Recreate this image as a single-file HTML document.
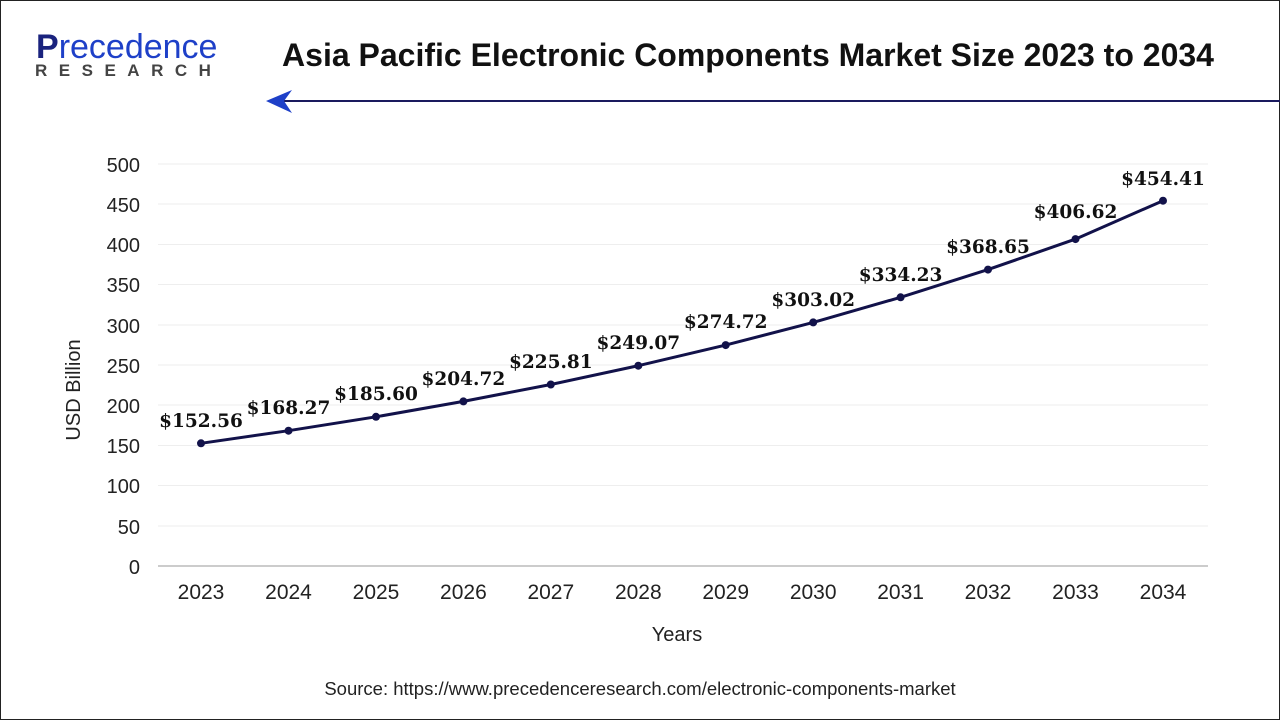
<!DOCTYPE html><html><head><style>
body{margin:0;width:1280px;height:720px;background:#fff;overflow:hidden;font-family:"Liberation Sans",sans-serif}
</style></head><body>
<svg width="1280" height="720" viewBox="0 0 1280 720">
<rect x="0.5" y="0.5" width="1279" height="719" fill="#fff" stroke="#222" stroke-width="1"/>
<text x="36" y="58" font-family="Liberation Sans,sans-serif" font-size="34" fill="#1a237e" font-weight="bold">P<tspan fill="#1e40c8" font-weight="normal">recedence</tspan></text>
<text x="35" y="76" font-size="17" fill="#444" font-weight="bold" letter-spacing="11.5">RESEARCH</text>
<text x="748" y="66" text-anchor="middle" font-size="32" font-weight="bold" fill="#111">Asia Pacific Electronic Components Market Size 2023 to 2034</text>
<line x1="280" y1="101" x2="1280" y2="101" stroke="#1a1a5e" stroke-width="2"/>
<path d="M266 101 L292 90 L284 101 L292 113 Z" fill="#1e40c8"/>
<g stroke="#eee" stroke-width="1">
<line x1="158" x2="1208" y1="164" y2="164"/><line x1="158" x2="1208" y1="204" y2="204"/><line x1="158" x2="1208" y1="244.5" y2="244.5"/><line x1="158" x2="1208" y1="284.5" y2="284.5"/><line x1="158" x2="1208" y1="325" y2="325"/><line x1="158" x2="1208" y1="365" y2="365"/><line x1="158" x2="1208" y1="405" y2="405"/><line x1="158" x2="1208" y1="445.5" y2="445.5"/><line x1="158" x2="1208" y1="485.5" y2="485.5"/><line x1="158" x2="1208" y1="526" y2="526"/>
</g>
<line x1="158" x2="1208" y1="566" y2="566" stroke="#999"/>
<g font-size="20" fill="#222" text-anchor="end">
<text x="140" y="172">500</text><text x="140" y="212">450</text><text x="140" y="252">400</text><text x="140" y="292">350</text><text x="140" y="333">300</text><text x="140" y="373">250</text><text x="140" y="413">200</text><text x="140" y="453">150</text><text x="140" y="493">100</text><text x="140" y="534">50</text><text x="140" y="574">0</text>
</g>
<text transform="translate(80,390) rotate(-90)" font-size="20" fill="#222" text-anchor="middle">USD Billion</text>
<g font-size="21" fill="#222" text-anchor="middle">
<text x="201" y="599">2023</text><text x="288.5" y="599">2024</text><text x="376" y="599">2025</text><text x="463.4" y="599">2026</text><text x="550.8" y="599">2027</text><text x="638.3" y="599">2028</text><text x="725.7" y="599">2029</text><text x="813.2" y="599">2030</text><text x="900.6" y="599">2031</text><text x="988" y="599">2032</text><text x="1075.5" y="599">2033</text><text x="1163" y="599">2034</text>
</g>
<text x="677" y="641" font-size="20" fill="#222" text-anchor="middle">Years</text>
<text x="640" y="695" font-size="18.5" fill="#222" text-anchor="middle">Source: https://www.precedenceresearch.com/electronic-components-market</text>
<polyline fill="none" stroke="#12124a" stroke-width="3" points="201,443.3 288.5,430.7 376,416.8 463.4,401.4 550.8,384.5 638.3,365.7 725.7,345.1 813.2,322.4 900.6,297.3 988,269.6 1075.5,239.1 1163,200.7"/>
<g fill="#12124a">
<circle cx="201" cy="443.3" r="4"/><circle cx="288.5" cy="430.7" r="4"/><circle cx="376" cy="416.8" r="4"/><circle cx="463.4" cy="401.4" r="4"/><circle cx="550.8" cy="384.5" r="4"/><circle cx="638.3" cy="365.7" r="4"/><circle cx="725.7" cy="345.1" r="4"/><circle cx="813.2" cy="322.4" r="4"/><circle cx="900.6" cy="297.3" r="4"/><circle cx="988" cy="269.6" r="4"/><circle cx="1075.5" cy="239.1" r="4"/><circle cx="1163" cy="200.7" r="4"/>
</g>
<g font-family="DejaVu Serif,serif" font-weight="bold" font-size="18.5" fill="#111" text-anchor="middle">
<text x="201" y="427">$152.56</text><text x="288.5" y="414">$168.27</text><text x="376" y="400">$185.60</text><text x="463.4" y="385">$204.72</text><text x="550.8" y="368">$225.81</text><text x="638.3" y="349">$249.07</text><text x="725.7" y="328">$274.72</text><text x="813.2" y="306">$303.02</text><text x="900.6" y="281">$334.23</text><text x="988" y="253">$368.65</text><text x="1075.5" y="218">$406.62</text><text x="1163" y="185">$454.41</text>
</g>
</svg>
</body></html>
